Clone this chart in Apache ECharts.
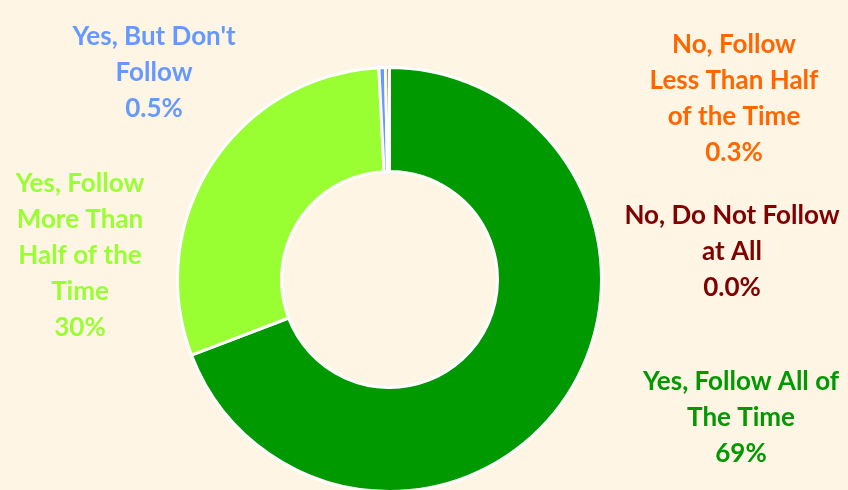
<!DOCTYPE html>
<html>
<head>
<meta charset="utf-8">
<script src="https://cdn.jsdelivr.net/npm/echarts@6/dist/echarts.min.js"></script>
<style>
  html, body { margin: 0; padding: 0; background: #fef5e4; }
</style>
</head>
<body>
<div id="chart" style="width:848px;height:490px;"></div>
<script>
// categories in clockwise order from 12 o'clock
var categories = ['Yes, Follow All of The Time', 'Yes, Follow More Than Half of the Time', "Yes, But Don't Follow", 'No, Follow Less Than Half of the Time', 'No, Do Not Follow at All']
var labelNames = ['Yes, Follow All of\nThe Time', 'Yes, Follow\nMore Than\nHalf of the\nTime', "Yes, But Don't\nFollow", 'No, Follow\nLess Than Half\nof the Time', 'No, Do Not Follow\nat All']
var values = [69.2, 30.0, 0.5, 0.3, 0.0]
var valueLabels = ['69%', '30%', '0.5%', '0.3%', '0.0%']
var colors = ['#009900', '#99ff33', '#6699ff', '#ff6600', '#800000']
var labelColors = ['#009900', '#99ff33', '#6699ff', '#ff6600', '#800000']
// label anchor (centre of the text block)
var labelPos = [[741, 418], [80, 256], [154, 73], [734, 99], [732, 252]]

var chart = echarts.init(document.getElementById('chart'))

var data = categories.map(function (c, i) {
  return {
    name: c,
    value: values[i],
    itemStyle: { color: colors[i] },
    label: { color: labelColors[i] }
  }
})

chart.setOption({
  backgroundColor: '#fef5e4',
  animation: false,
  series: [{
    type: 'pie',
    center: [389.5, 279.5],
    radius: [108, 212],
    startAngle: 90,
    clockwise: true,
    avoidLabelOverlap: false,
    itemStyle: {
      borderColor: '#ffffff',
      borderWidth: 3
    },
    label: {
      show: true,
      position: 'outside',
      fontFamily: 'Lato',
      fontWeight: 'bold',
      fontSize: 26,
      lineHeight: 36,
      align: 'center',
      formatter: function (p) {
        return labelNames[p.dataIndex] + '\n' + valueLabels[p.dataIndex]
      }
    },
    labelLine: { show: false },
    labelLayout: function (p) {
      return {
        x: labelPos[p.dataIndex][0],
        y: labelPos[p.dataIndex][1],
        align: 'center',
        verticalAlign: 'middle',
        hideOverlap: false
      }
    },
    data: data
  }]
})
</script>
</body>
</html>
